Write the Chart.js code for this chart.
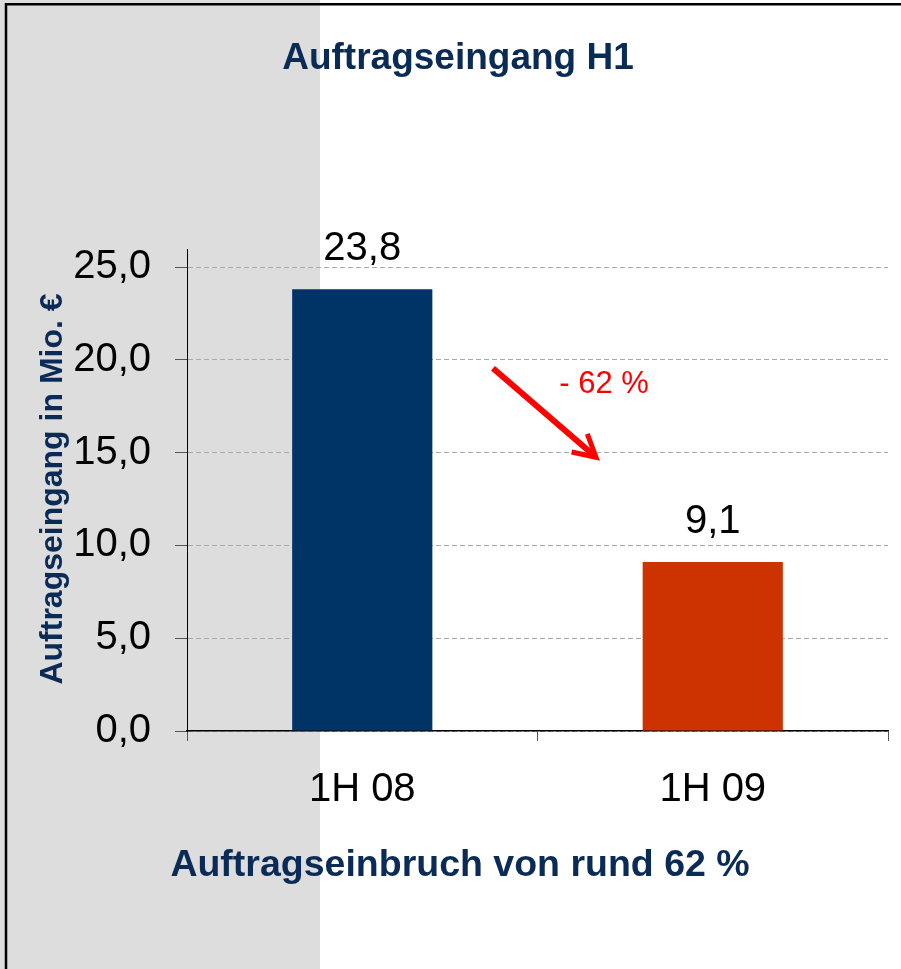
<!DOCTYPE html>
<html>
<head>
<meta charset="utf-8">
<script src="https://cdn.jsdelivr.net/npm/chart.js@4/dist/chart.umd.min.js"></script>
<style>
  html, body { margin: 0; padding: 0; background: #ffffff; }
  #c { display: block; }
</style>
</head>
<body>
<canvas id="c" width="901" height="969"></canvas>
<script>
// ---- data ----
const categories = ['1H 08', '1H 09'];
const values = [23.8, 9.1];
const barColors = ['#003366', '#CC3300'];
const yMin = 0, yMax = 25, yStep = 5;
const chartTitle = 'Auftragseingang H1';
const yAxisTitle = 'Auftragseingang in Mio. €';
const footerText = 'Auftragseinbruch von rund 62 %';
const changeLabel = '- 62 %';
// arrow annotation in data coordinates (category index, value)
const arrowFrom = { x: 0.373, y: 19.55 };
const arrowTo = { x: 0.667, y: 14.75 };
const changeLabelPos = { x: 0.69, y: 18.2 };

const FONT = '"Liberation Sans", Arial, Helvetica, sans-serif';
const NAVY = '#0B2B57';
const fmt = v => Number(v).toFixed(1).replace('.', ',');

const decorPlugin = {
  id: 'decor',
  beforeDraw(chart) {
    const ctx = chart.ctx;
    ctx.save();
    ctx.fillStyle = '#ffffff';
    ctx.fillRect(0, 0, chart.width, chart.height);
    ctx.fillStyle = '#DDDDDD';
    ctx.fillRect(0, 0, 320, chart.height);
    ctx.restore();
  },
  afterDraw(chart) {
    const ctx = chart.ctx;
    const xs = chart.scales.x, ys = chart.scales.y;
    const area = chart.chartArea;
    ctx.save();
    // frame
    ctx.strokeStyle = '#000000';
    ctx.lineWidth = 2.5;
    ctx.beginPath();
    ctx.moveTo(chart.width, 4.2);
    ctx.lineTo(6, 4.2);
    ctx.lineTo(6, chart.height);
    ctx.stroke();
    // y axis extension above top
    ctx.lineWidth = 1;
    ctx.beginPath();
    ctx.moveTo(area.left + 0.5, area.top - 18);
    ctx.lineTo(area.left + 0.5, area.top);
    ctx.stroke();

    // title
    ctx.fillStyle = NAVY;
    ctx.textAlign = 'center';
    ctx.textBaseline = 'alphabetic';
    ctx.font = 'bold 37px ' + FONT;
    ctx.fillText(chartTitle, 458, 69);
    // footer
    ctx.font = 'bold 37.5px ' + FONT;
    ctx.fillText(footerText, 460, 876);
    // y axis title
    ctx.save();
    ctx.translate(62, 489);
    ctx.rotate(-Math.PI / 2);
    ctx.font = 'bold 32px ' + FONT;
    ctx.fillText(yAxisTitle, 0, 0);
    ctx.restore();

    // value labels
    ctx.fillStyle = '#000000';
    ctx.font = '40px ' + FONT;
    const meta = chart.getDatasetMeta(0);
    meta.data.forEach((bar, i) => {
      ctx.fillText(fmt(values[i]), bar.x, bar.y - 29);
    });

    // arrow
    const x1 = xs.getPixelForValue(arrowFrom.x), y1 = ys.getPixelForValue(arrowFrom.y);
    const x2 = xs.getPixelForValue(arrowTo.x), y2 = ys.getPixelForValue(arrowTo.y);
    ctx.strokeStyle = '#FF0000';
    ctx.lineWidth = 6;
    ctx.lineCap = 'butt';
    const ang = Math.atan2(y2 - y1, x2 - x1);
    ctx.beginPath();
    ctx.moveTo(x1, y1);
    ctx.lineTo(x2 - 3 * Math.cos(ang), y2 - 3 * Math.sin(ang));
    ctx.stroke();
    const hl = 25, ha = 0.5;
    ctx.lineWidth = 5;
    ctx.lineJoin = 'miter';
    ctx.beginPath();
    ctx.moveTo(x2 - hl * Math.cos(ang - ha), y2 - hl * Math.sin(ang - ha));
    ctx.lineTo(x2, y2);
    ctx.lineTo(x2 - hl * Math.cos(ang + ha), y2 - hl * Math.sin(ang + ha));
    ctx.stroke();

    // change label
    ctx.fillStyle = '#FF0000';
    ctx.font = '31px ' + FONT;
    ctx.textAlign = 'center';
    ctx.fillText(changeLabel, xs.getPixelForValue(changeLabelPos.x), ys.getPixelForValue(changeLabelPos.y));
    ctx.restore();
  }
};

new Chart(document.getElementById('c'), {
  type: 'bar',
  data: {
    labels: categories,
    datasets: [{
      data: values,
      backgroundColor: barColors,
      borderWidth: 0,
      categoryPercentage: 1.0,
      barPercentage: 0.4
    }]
  },
  options: {
    responsive: false,
    devicePixelRatio: 1,
    animation: false,
    layout: { padding: { top: 267, right: 13, bottom: 158, left: 0 } },
    plugins: {
      legend: { display: false },
      tooltip: { enabled: false },
      title: { display: false }
    },
    scales: {
      x: {
        offset: true,
        grid: {
          offset: true,
          drawOnChartArea: false,
          drawTicks: true,
          tickLength: 10,
          color: '#555555',
          lineWidth: 1
        },
        border: { display: true, color: '#000000', width: 1.5 },
        ticks: {
          color: '#000000',
          font: { family: FONT, size: 40 },
          padding: 25
        },
        afterFit(scale) { scale.height = 80; }
      },
      y: {
        min: yMin,
        max: yMax,
        ticks: {
          stepSize: yStep,
          color: '#000000',
          font: { family: FONT, size: 40 },
          padding: 24,
          callback: v => fmt(v)
        },
        grid: {
          color: '#AAAAAA',
          lineWidth: 1,
          tickLength: 12,
          tickColor: '#555555',
          tickBorderDash: [],
          borderDash: [5, 3]
        },
        border: { display: true, color: '#000000', width: 1, dash: [5, 3] },
        afterFit(scale) { scale.width = 187; }
      }
    }
  },
  plugins: [decorPlugin]
});
</script>
</body>
</html>
